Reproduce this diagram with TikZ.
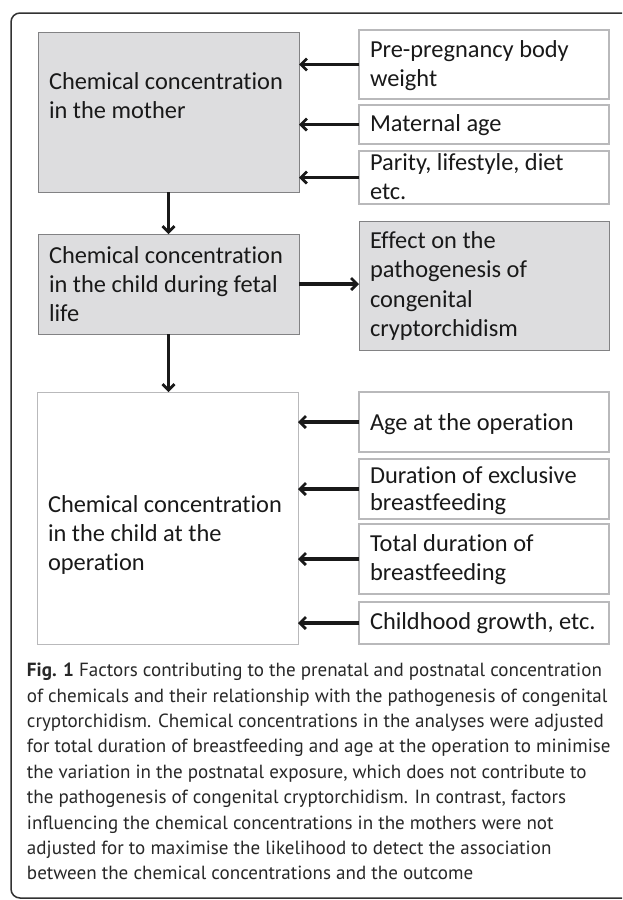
\documentclass[tikz,border=0pt]{standalone}
\usepackage{fontspec}
\setmainfont{Carlito}[Ligatures=NoCommon,RawFeature={-liga;-clig;-dlig}]
\newfontfamily\capfont{PT Sans}
\usetikzlibrary{arrows.meta}
\definecolor{boxgray}{RGB}{221,221,223}
\definecolor{darkedge}{RGB}{130,130,132}
\definecolor{lightedge}{RGB}{185,185,187}
\definecolor{ink}{RGB}{25,25,25}
\definecolor{capink}{RGB}{40,40,40}
\definecolor{framec}{RGB}{50,50,50}
\newcommand\boxlines[1]{\begin{tabular}[t]{@{}l@{}}#1\end{tabular}}
\begin{document}
\begin{tikzpicture}[x=1pt,y=-1pt,
  graybox/.style={draw=darkedge, fill=boxgray, line width=1pt, inner sep=0pt, outer sep=0pt, anchor=north west},
  whitebox/.style={draw=lightedge, fill=white, line width=1.3pt, inner sep=0pt, outer sep=0pt, anchor=north west},
  txt/.style={anchor=base west, inner sep=0pt, outer sep=0pt, text=ink, font=\fontsize{24.4pt}{29pt}\selectfont},
  arr/.style={draw=ink, line width=3.2pt, -{Straight Barb[length=6pt,width=12pt,line width=2.8pt]}},
  captxt/.style={anchor=base west, inner sep=0pt, outer sep=0pt, text=capink, font=\capfont\fontsize{19.05pt}{25.4pt}\selectfont}
]
\useasboundingbox (0,0) rectangle (622,900);
\clip (0,0) rectangle (622,900);
\fill[white] (0,0) rectangle (622,900);
\draw[framec, line width=1.5pt, rounded corners=9pt] (11,13) rectangle (700,898);

% upper section
\node[graybox, minimum width=261pt, minimum height=160pt] (mother) at (38,32) {};
\node[whitebox, minimum width=250pt, minimum height=69pt] (pre) at (359,30) {};
\node[whitebox, minimum width=250pt, minimum height=39pt] (mat) at (359,105) {};
\node[whitebox, minimum width=250pt, minimum height=53pt] (par) at (359,151) {};
\node[graybox, minimum width=261pt, minimum height=100pt] (fetal) at (38,234) {};
\node[graybox, minimum width=250pt, minimum height=129pt] (effect) at (359,221) {};

% lower section
\node[whitebox, line width=1pt, minimum width=261pt, minimum height=252pt] (oper) at (37,392) {};
\node[whitebox, minimum width=250pt, minimum height=60pt] (age) at (359,392) {};
\node[whitebox, minimum width=250pt, minimum height=60pt] (dur) at (359,459) {};
\node[whitebox, minimum width=250pt, minimum height=70pt] (tot) at (359,524) {};
\node[whitebox, minimum width=250pt, minimum height=42pt] (grow) at (359,602) {};

% texts
\node[txt] (mothert) at (49,89.5) {\boxlines{Chemical concentration\\in the mother}};
\node[txt] (pret) at (370,57.3) {\boxlines{Pre-pregnancy body\\weight}};
\node[txt] (matt) at (370,131) {Maternal age};
\node[txt] (part) at (370,170.5) {\boxlines{Parity, lifestyle, diet\\etc.}};
\node[txt] (fetalt) at (49,263) {\boxlines{Chemical concentration\\in the child during fetal\\life}};
\node[txt, font=\fontsize{24.4pt}{29.4pt}\selectfont] (effectt) at (370,248.3) {\boxlines{Effect on the\\pathogenesis of\\congenital\\cryptorchidism}};
\node[txt] (opert) at (48,512.5) {\boxlines{Chemical concentration\\in the child at the\\operation}};
\node[txt] (aget) at (370,430) {Age at the operation};
\node[txt, font=\fontsize{24.4pt}{27.5pt}\selectfont] (durt) at (370,483.3) {\boxlines{Duration of exclusive\\breastfeeding}};
\node[txt] (tott) at (370,551.7) {\boxlines{Total duration of\\breastfeeding}};
\node[txt] (growt) at (370,629.3) {Childhood growth, etc.};

% connectors
\draw[arr] (pre.west) -- (pre.west -| mother.east);
\draw[arr] (mat.west) -- (mat.west -| mother.east);
\draw[arr] (par.west) -- (par.west -| mother.east);
\draw[arr] (mother.south) -- (fetal.north);
\draw[arr] (fetal.east) -- (fetal.east -| effect.west);
\draw[arr] (fetal.south) -- (fetal.south |- oper.north);
\draw[arr] (age.west) -- (age.west -| oper.east);
\draw[arr] (dur.west) -- (dur.west -| oper.east);
\draw[arr] (tot.west) -- (tot.west -| oper.east);
\draw[arr] (grow.west) -- (grow.west -| oper.east);

% caption
\node[captxt] (cap1) at (27,676.7) {\textbf{Fig. 1} Factors contributing to the prenatal and postnatal concentration};
\node[captxt] (cap2) at (27,702.1) {of chemicals and their relationship with the pathogenesis of congenital};
\node[captxt] (cap3) at (27,727.5) {cryptorchidism. Chemical concentrations in the analyses were adjusted};
\node[captxt] (cap4) at (27,752.9) {for total duration of breastfeeding and age at the operation to minimise};
\node[captxt] (cap5) at (27,778.3) {the variation in the postnatal exposure, which does not contribute to};
\node[captxt] (cap6) at (27,803.7) {the pathogenesis of congenital cryptorchidism. In contrast, factors};
\node[captxt] (cap7) at (27,829.1) {influencing the chemical concentrations in the mothers were not};
\node[captxt] (cap8) at (27,854.5) {adjusted for to maximise the likelihood to detect the association};
\node[captxt] (cap9) at (27,879.9) {between the chemical concentrations and the outcome};
\end{tikzpicture}
\end{document}
